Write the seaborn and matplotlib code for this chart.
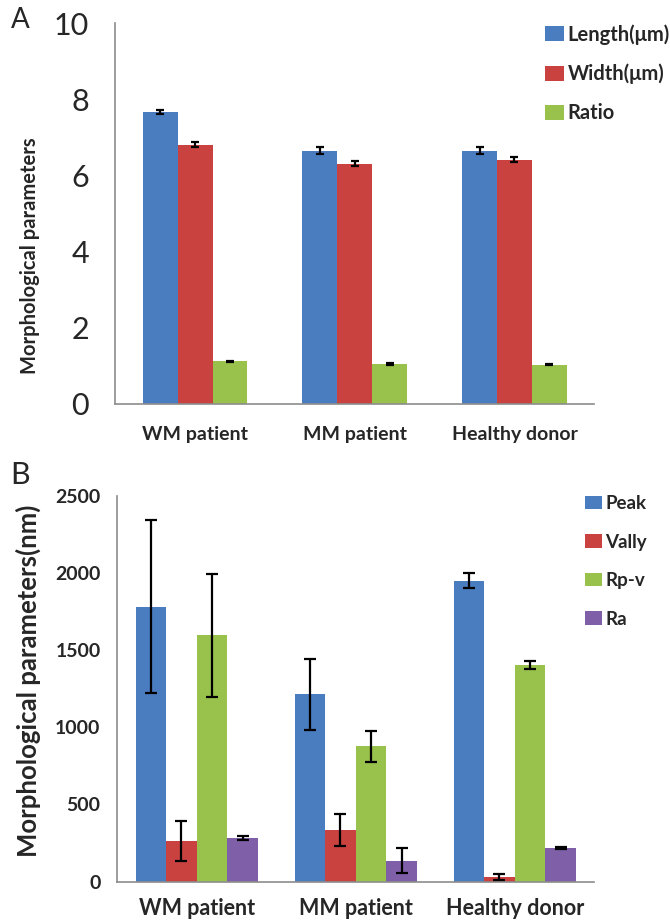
#!/usr/bin/env python3
"""Grouped bar charts of morphological parameters (panels A and B)."""

import numpy as np
import pandas as pd
import matplotlib
matplotlib.use("Agg")
import matplotlib.pyplot as plt
import seaborn as sns

GROUPS = ["WM patient", "MM patient", "Healthy donor"]

# Panel A: cell size
A_SERIES = ["Length(μm)", "Width(μm)", "Ratio"]
A_MEAN = [[7.66, 6.65, 6.65],
          [6.81, 6.31, 6.41],
          [1.12, 1.05, 1.03]]
A_ERR = [[0.05, 0.09, 0.09],
         [0.07, 0.07, 0.07],
         [0.01, 0.02, 0.01]]
A_COLORS = ["#4a7cc0", "#c9423f", "#99c24d"]

# Panel B: surface roughness
B_SERIES = ["Peak", "Vally", "Rp-v", "Ra"]
B_MEAN = [[1780, 1215, 1950],
          [262, 334, 30],
          [1595, 876, 1405],
          [280, 136, 218]]
B_ERR = [[560, 230, 48],
         [130, 105, 20],
         [400, 100, 26],
         [13, 83, 6]]
B_COLORS = ["#4a7cc0", "#c9423f", "#99c24d", "#7f5fa8"]

FONT = ["Lato", "DejaVu Sans"]


def to_long(series, means, errs):
    rows = []
    for s, m_row, e_row in zip(series, means, errs):
        for g, m, e in zip(GROUPS, m_row, e_row):
            rows.append({"group": g, "series": s, "value": m, "err": e})
    return pd.DataFrame(rows)


def draw_panel(ax, df, series, colors, width, cap):
    sns.barplot(data=df, x="group", y="value", hue="series",
                hue_order=series, order=GROUPS, palette=colors,
                width=width, errorbar=None, saturation=1, linewidth=0,
                ax=ax)
    # error bars on top of each bar
    for cont, s in zip(ax.containers, series):
        sub = df[df["series"] == s].set_index("group").loc[GROUPS]
        xs = [p.get_x() + p.get_width() / 2 for p in cont.patches]
        ax.errorbar(xs, sub["value"].values, yerr=sub["err"].values,
                    fmt="none", ecolor="black", elinewidth=1.6,
                    capsize=cap, capthick=1.6, zorder=5)
    ax.set_xlim(-0.5, 2.5)
    ax.set_xlabel("")
    for side in ["top", "right"]:
        ax.spines[side].set_visible(False)
    for side in ["left", "bottom"]:
        ax.spines[side].set_color("#8c8c8c")
        ax.spines[side].set_linewidth(1.2)
    ax.set_xticks([0, 1, 2])
    ax.set_xticks([-0.5, 0.5, 1.5, 2.5], minor=True)
    ax.tick_params(axis="x", which="major", length=0, pad=16)
    ax.tick_params(axis="x", which="minor", length=5, color="#8c8c8c",
                   direction="out")
    ax.tick_params(axis="y", length=5, color="#8c8c8c", direction="out")
    for lab in ax.get_xticklabels():
        lab.set_fontweight("bold")
        lab.set_family(FONT)


sns.set_style("white")
plt.rcParams["font.family"] = FONT

fig = plt.figure(figsize=(6.7, 9.21), dpi=100)

# ---- panel A ----
axA = fig.add_axes([0.172, 0.5614, 0.715, 0.4136])
dfA = to_long(A_SERIES, A_MEAN, A_ERR)
draw_panel(axA, dfA, A_SERIES, A_COLORS, 0.656, 3)
axA.set_ylim(0, 10)
axA.set_yticks(np.arange(0, 11, 2))
axA.tick_params(axis="y", labelsize=22, pad=10, length=9)
axA.tick_params(axis="x", labelsize=14)
axA.set_ylabel("Morphological parameters", fontsize=14.5, fontweight="bold")
axA.yaxis.set_label_coords(-0.158, 0.39)
axA.legend(loc="upper left", bbox_to_anchor=(0.814, 0.974),
           bbox_transform=fig.transFigure, frameon=False,
           prop={"weight": "bold", "size": 14.5},
           handlelength=0.9, handleheight=0.75, handletextpad=0.2,
           labelspacing=0.95, borderaxespad=0, borderpad=0)
fig.text(0.016, 0.978, "A", fontsize=20, va="center")

# ---- panel B ----
axB = fig.add_axes([0.175, 0.0427, 0.712, 0.4191])
dfB = to_long(B_SERIES, B_MEAN, B_ERR)
draw_panel(axB, dfB, B_SERIES, B_COLORS, 0.77, 4)
axB.set_ylim(0, 2500)
axB.set_yticks(np.arange(0, 2501, 500))
axB.tick_params(axis="y", labelsize=14, pad=6, length=6)
axB.tick_params(axis="x", labelsize=15.5, pad=12)
for lab in axB.get_yticklabels():
    lab.set_fontweight("bold")
axB.set_ylabel("Morphological parameters(nm)", fontsize=18.5,
               fontweight="bold")
axB.yaxis.set_label_coords(-0.16, 0.52)
axB.legend(loc="upper left", bbox_to_anchor=(0.873, 0.4625),
           bbox_transform=fig.transFigure, frameon=False,
           prop={"weight": "bold", "size": 13.5},
           handlelength=0.9, handleheight=0.75, handletextpad=0.2,
           labelspacing=1.15, borderaxespad=0, borderpad=0)
fig.text(0.016, 0.484, "B", fontsize=22, va="center")

fig.savefig("out.png", dpi=100)
